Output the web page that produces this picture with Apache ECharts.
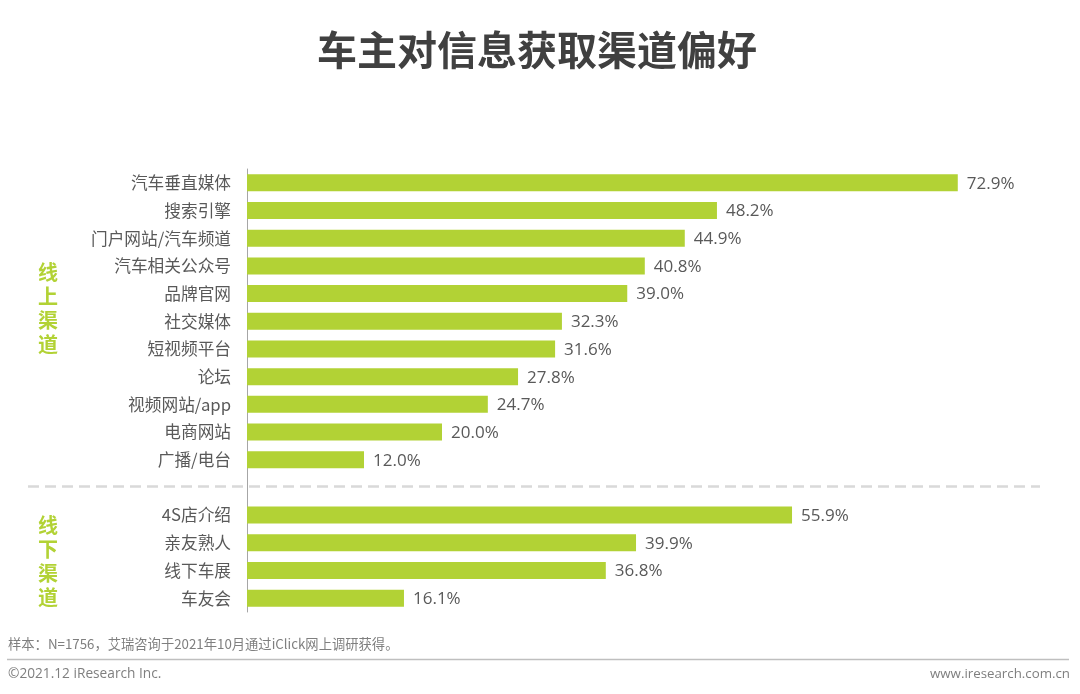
<!DOCTYPE html>
<html>
<head>
<meta charset="utf-8">
<style>html,body{margin:0;padding:0;background:#fff}#c{width:1080px;height:694px}</style>
<script src="https://cdn.jsdelivr.net/npm/echarts@6/dist/echarts.min.js"></script>
</head>
<body>
<div id="c"></div>
<script>
const categories = ['汽车垂直媒体','搜索引擎','门户网站/汽车频道','汽车相关公众号','品牌官网','社交媒体','短视频平台','论坛','视频网站/app','电商网站','广播/电台','','4S店介绍','亲友熟人','线下车展','车友会'];
const values = [72.9,48.2,44.9,40.8,39.0,32.3,31.6,27.8,24.7,20.0,12.0,null,55.9,39.9,36.8,16.1];
const titleText = '车主对信息获取渠道偏好';
const onlineLabel = ['线','上','渠','道'];
const offlineLabel = ['线','下','渠','道'];
const noteText = '样本：N=1756，艾瑞咨询于2021年10月通过iClick网上调研获得。';
const copyrightText = '©2021.12 iResearch Inc.';
const siteText = 'www.iresearch.com.cn';
const GREEN = '#b2d235';
const FONT = '"Noto Sans CJK SC","Open Sans",sans-serif';

const sideText = (chars, x, y0) => chars.map((ch, i) => ({
  type: 'text', x: x, y: y0 + i * 24,
  style: {text: ch, fill: GREEN, font: '700 20px ' + FONT, textAlign: 'center', textVerticalAlign: 'middle'}
}));

const chart = echarts.init(document.getElementById('c'), null, {renderer: 'canvas'});
chart.setOption({
  animation: false,
  backgroundColor: '#fff',
  title: {
    text: titleText, left: 312, top: 25,
    textStyle: {fontFamily: FONT, fontSize: 40, fontWeight: 700, color: '#404040'}
  },
  grid: {left: 247, top: 169, width: 780, height: 443},
  xAxis: {type: 'value', min: 0, max: 80, show: false},
  yAxis: {
    type: 'category', inverse: true, data: categories,
    axisLine: {show: true, lineStyle: {color: '#a6a6a6', width: 1}},
    axisTick: {show: false},
    axisLabel: {color: '#595959', fontFamily: FONT, fontSize: 16.7, margin: 16, interval: 0}
  },
  series: [{
    type: 'bar', data: values, barWidth: 17, itemStyle: {color: GREEN},
    label: {
      show: true, position: 'right', distance: 9, offset: [0, 1], color: '#595959',
      fontFamily: '"Open Sans",sans-serif', fontSize: 17,
      formatter: p => p.value == null ? '' : p.value.toFixed(1) + '%'
    }
  }],
  graphic: [
    {type: 'line', z: 10, shape: {x1: 28, y1: 486.5, x2: 1040, y2: 486.5},
     style: {stroke: '#d9d9d9', lineWidth: 2.5, lineDash: [11, 6]}},
    {type: 'line', shape: {x1: 7, y1: 659.5, x2: 1069, y2: 659.5},
     style: {stroke: '#bfbfbf', lineWidth: 1.5}},
    ...sideText(onlineLabel, 48, 272),
    ...sideText(offlineLabel, 48, 525),
    {type: 'text', x: 8, y: 644, style: {text: noteText, fill: '#7f7f7f', font: '13.3px ' + FONT, textVerticalAlign: 'middle'}},
    {type: 'text', x: 8, y: 674, style: {text: copyrightText, fill: '#7f7f7f', font: '13.7px "Open Sans",sans-serif', textVerticalAlign: 'middle'}},
    {type: 'text', x: 1070, y: 674, style: {text: siteText, fill: '#7f7f7f', font: '13.3px "Open Sans",sans-serif', textAlign: 'right', textVerticalAlign: 'middle'}}
  ]
});
</script>
</body>
</html>
